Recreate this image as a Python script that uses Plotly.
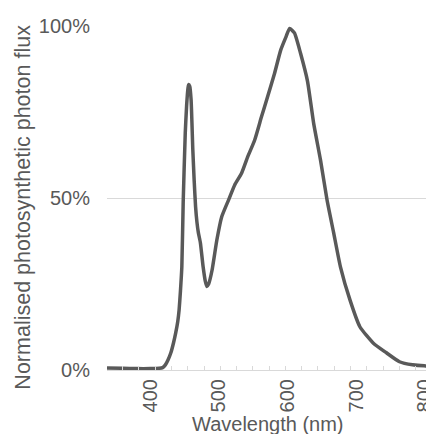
import plotly.graph_objects as go

wavelength = [337, 360, 380, 400, 413, 418, 422, 426, 430, 434, 437, 440, 442, 444, 446, 448, 451, 453, 455, 456,
              457.5, 459.5, 462, 464, 466, 468, 470, 473, 477, 480, 482.5, 485, 490, 497, 504, 514, 523, 533,
              542, 552, 562, 571, 581, 590, 598, 603, 610, 619, 629, 638, 648, 657.5, 667, 677, 691, 705.5,
              725, 744, 763, 782, 799, 804]
flux = [0.006, 0.005, 0.004, 0.004, 0.005, 0.007, 0.015, 0.03, 0.05, 0.08, 0.107, 0.14, 0.174, 0.23, 0.30, 0.49,
        0.69, 0.77, 0.82, 0.83, 0.825, 0.785, 0.64, 0.55, 0.475, 0.43, 0.40, 0.37, 0.30, 0.26, 0.243, 0.25,
        0.29, 0.378, 0.445, 0.494, 0.538, 0.572, 0.62, 0.668, 0.736, 0.795, 0.862, 0.93, 0.97, 0.993, 0.98,
        0.92, 0.84, 0.717, 0.61, 0.494, 0.40, 0.30, 0.203, 0.125, 0.078, 0.05, 0.024, 0.015, 0.012, 0.012]

y_ticks = [0, 0.5, 1.0]
y_labels = ["0%", "50%", "100%"]
x_ticks = [400, 500, 600, 700, 800]
x_title = "Wavelength (nm)"
y_title = "Normalised photosynthetic photon flux"

gray = "#595959"
grid = "#d9d9d9"
font = "Liberation Sans, Arial, sans-serif"

fig = go.Figure(go.Scatter(x=wavelength, y=flux, mode="lines",
                           line=dict(color=gray, width=3.5, shape="spline", smoothing=0.5),
                           hoverinfo="skip"))

# page body has an 8px margin, so the figure is drawn 8px right/down
fig.update_layout(
    width=426, height=426,
    margin=dict(l=99, r=5, t=18, b=64),
    paper_bgcolor="white", plot_bgcolor="white",
    showlegend=False,
    font=dict(family=font, size=20, color=gray),
)
fig.update_xaxes(
    range=[337, 806], automargin=False,
    tickmode="array", tickvals=x_ticks, ticktext=[str(v) for v in x_ticks],
    tickangle=-90, ticks="", showgrid=False, zeroline=False,
    showline=True, linecolor=grid, linewidth=1,
    tickfont=dict(size=20, color=gray),
    ticklabelstandoff=0, ticklabeloverflow="allow",
    minor=dict(tick0=431, dtick=23.7, ticks="inside", ticklen=4, tickcolor=grid, tickwidth=1, showgrid=False),
)
fig.update_yaxes(
    range=[0, 1.0], automargin=False,
    tickmode="array", tickvals=y_ticks, ticktext=y_labels,
    ticks="", showgrid=True, gridcolor=grid, gridwidth=1, zeroline=False,
    showline=False,
    tickfont=dict(size=20, color=gray),
    ticklabelstandoff=16,
)
fig.add_annotation(text=x_title, xref="paper", yref="paper", x=0.5, y=0, yshift=-54,
                   xanchor="center", yanchor="middle", showarrow=False,
                   font=dict(size=20, color=gray))
fig.add_annotation(text=y_title, xref="paper", yref="paper", x=0, y=0.472, xshift=-84,
                   xanchor="center", yanchor="middle", textangle=-90, showarrow=False,
                   font=dict(size=21.5, color=gray))

fig.write_html("out.html")
